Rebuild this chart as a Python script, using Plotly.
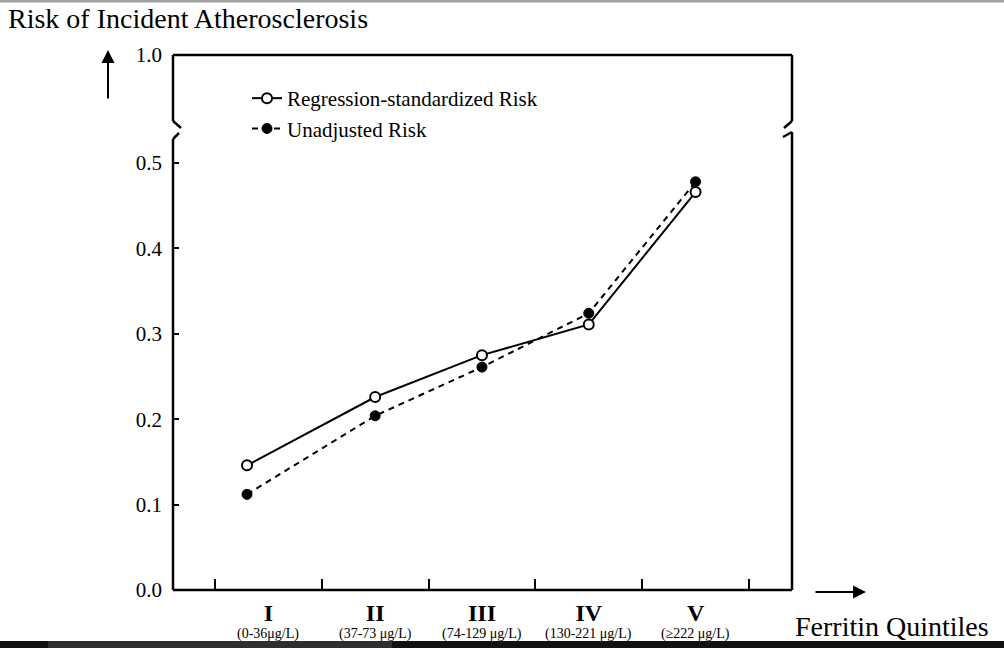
import plotly.graph_objects as go

# ---------------- data ----------------
quintiles = ["I", "II", "III", "IV", "V"]
ferritin_ranges = ["(0-36μg/L)", "(37-73 μg/L)", "(74-129 μg/L)", "(130-221 μg/L)", "(≥222 μg/L)"]
category_pos = [1, 2, 3, 4, 5]
point_pos = [0.8, 2.0, 3.0, 4.0, 5.0]          # where the points sit along the x axis
regression_risk = [0.146, 0.226, 0.275, 0.311, 0.466]
unadjusted_risk = [0.112, 0.204, 0.261, 0.324, 0.478]
y_tick_vals = [0.0, 0.1, 0.2, 0.3, 0.4, 0.5]
y_tick_text = ["0.0", "0.1", "0.2", "0.3", "0.4", "0.5"]
y_top_label = "1.0"
boundary_ticks = [0.5, 1.5, 2.5, 3.5, 4.5, 5.5]

# ---------------- geometry ----------------
W, H = 1004, 648
L, R, T, B = 173, 212, 55, 58
PW, PH = W - L - R, H - T - B
X_RANGE = [0.107, 5.903]
Y_TOP = 0.6265
FONT = "Liberation Serif"


def px_x(px):
    return (px - L) / PW


def px_y(py):
    return (H - B - py) / PH


fig = go.Figure()

fig.add_trace(go.Scatter(
    x=point_pos, y=regression_risk, mode="lines+markers",
    name="Regression-standardized Risk", legendgroup="a",
    line=dict(color="black", width=2),
    marker=dict(symbol="circle", size=10, color="white", line=dict(color="black", width=2)),
))
fig.add_trace(go.Scatter(
    x=point_pos, y=unadjusted_risk, mode="lines+markers",
    name="Unadjusted Risk", legendgroup="b",
    line=dict(color="black", width=2, dash="6px,5px"),
    marker=dict(symbol="circle", size=10, color="black", line=dict(color="black", width=1)),
))

# ---------------- frame with axis break ----------------
lw = 2.5
shapes = []


def seg(x0, y0, x1, y1):
    shapes.append(dict(type="line", xref="paper", yref="paper",
                       x0=x0, y0=y0, x1=x1, y1=y1,
                       line=dict(color="black", width=lw)))


# bottom and top
seg(0, 0, 1, 0)
seg(0, 1, 1, 1)
# left side
seg(0, 1, 0, px_y(121))
seg(0, px_y(121), px_x(181), px_y(128))
seg(px_x(179), px_y(133), 0, px_y(139))
seg(0, px_y(139), 0, 0)
# right side
seg(1, 1, 1, px_y(121))
seg(1, px_y(121), px_x(784), px_y(128))
seg(px_x(783), px_y(137), 1, px_y(132))
seg(1, px_y(132), 1, 0)

# scan artefacts: light top rule and dark bottom band
shapes.append(dict(type="rect", xref="paper", yref="paper", layer="above",
                   x0=px_x(0), x1=px_x(W), y0=px_y(0), y1=px_y(2.5),
                   fillcolor="#a0a0a0", line=dict(width=0)))
shapes.append(dict(type="rect", xref="paper", yref="paper", layer="above",
                   x0=px_x(0), x1=px_x(W), y0=px_y(641), y1=px_y(H),
                   fillcolor="#111111", line=dict(width=0)))
shapes.append(dict(type="rect", xref="paper", yref="paper", layer="above",
                   x0=px_x(48), x1=px_x(392), y0=px_y(641), y1=px_y(H),
                   fillcolor="#2e2e2e", line=dict(width=0)))

annotations = []
# title
annotations.append(dict(xref="paper", yref="paper", x=px_x(6), y=px_y(18),
                        xanchor="left", yanchor="middle", showarrow=False,
                        text="Risk of Incident Atherosclerosis",
                        font=dict(family=FONT, size=28, color="black")))
# x title
annotations.append(dict(xref="paper", yref="paper", x=px_x(793), y=px_y(626),
                        xanchor="left", yanchor="middle", showarrow=False,
                        text="Ferritin Quintiles",
                        font=dict(family=FONT, size=28, color="black")))
# arrows
annotations.append(dict(xref="paper", yref="paper", x=px_x(866), y=px_y(592),
                        ax=-52, ay=0, text="", showarrow=True,
                        arrowhead=2, arrowsize=1.3, arrowwidth=2, arrowcolor="black"))
annotations.append(dict(xref="paper", yref="paper", x=px_x(108), y=px_y(50),
                        ax=0, ay=50, text="", showarrow=True,
                        arrowhead=2, arrowsize=1.3, arrowwidth=2, arrowcolor="black"))
# ferritin ranges under numerals
for xc, txt in zip(category_pos, ferritin_ranges):
    annotations.append(dict(xref="x", yref="paper", x=xc, y=px_y(634),
                            xanchor="center", yanchor="middle", showarrow=False,
                            text=txt, font=dict(family=FONT, size=14, color="black")))

fig.update_layout(
    width=W, height=H,
    margin=dict(l=L, r=R, t=T, b=B),
    paper_bgcolor="white", plot_bgcolor="white",
    font=dict(family=FONT, color="black"),
    shapes=shapes, annotations=annotations,
    showlegend=True,
    legend=dict(x=px_x(247), y=px_y(78), xanchor="left", yanchor="top",
                bgcolor="rgba(0,0,0,0)", font=dict(family=FONT, size=21, color="black"),
                traceorder="grouped", tracegroupgap=0),
    xaxis=dict(range=X_RANGE, showgrid=False, zeroline=False, showline=False,
               tickmode="array", tickvals=category_pos,
               ticktext=["<b>%s</b>" % q for q in quintiles],
               ticks="", ticklabelstandoff=6,
               tickfont=dict(family=FONT, size=24, color="black"),
               minor=dict(tickmode="array", tickvals=boundary_ticks, ticks="inside",
                          ticklen=11, tickwidth=2, tickcolor="black", showgrid=False)),
    yaxis=dict(range=[0, Y_TOP], showgrid=False, zeroline=False, showline=False,
               tickmode="array", tickvals=y_tick_vals + [Y_TOP],
               ticktext=y_tick_text + [y_top_label],
               ticks="inside", ticklen=6, tickwidth=2, tickcolor="black",
               ticklabelstandoff=10,
               tickfont=dict(family=FONT, size=21, color="black")),
)

fig.write_html("out.html", config={"displayModeBar": False},
               post_script="document.body.style.margin='0px';")
